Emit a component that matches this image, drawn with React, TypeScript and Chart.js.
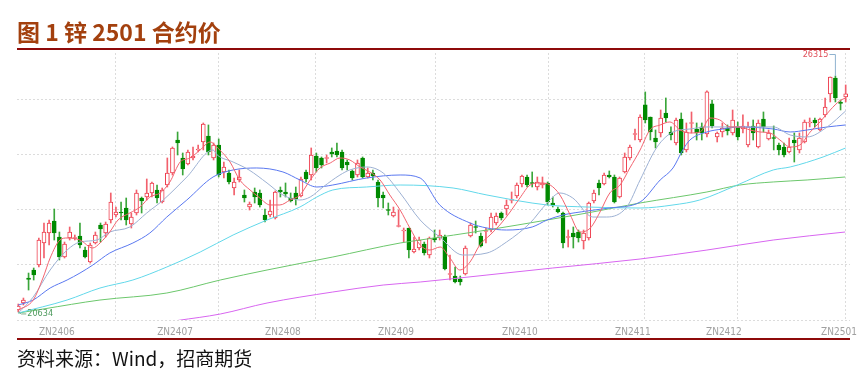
import React, { useEffect, useRef } from 'react';
import { Chart, registerables } from 'chart.js';
Chart.register(...registerables);

// Daily OHLC of ZN2501 (index = trading day)
const opens = [20680,20849,21451,21644,21764,22294,22535,22824,22439,21957,
22415,22403,22463,22125,21836,22294,22728,22535,22848,22969,
23041,23137,22752,23017,23378,23402,23499,23571,23282,23691,
23980,24775,24342,24197,24342,24535,24727,24872,24342,24655,
24005,23980,23619,23812,23450,23161,23523,23499,22969,22969,
22896,23571,23523,23378,23499,23426,24005,23932,24390,24342,
24330,24486,24510,24486,24245,24029,23932,24342,23884,23980,
23764,23450,23101,22945,22692,22583,22655,22077,22174,22270,
22005,22415,22415,22439,21535,21499,21427,21547,22463,22692,
22463,22571,22607,22776,23017,23113,23318,23426,23715,23884,
23752,23643,23691,23740,23258,23113,23017,22427,22535,22559,
22342,22415,23306,23740,23715,23932,23884,23402,24005,24342,
24908,24775,25619,25329,24824,24944,25426,24968,24703,25281,
24535,25173,25040,25089,24920,25643,24848,24968,25064,24944,
25089,25040,24655,25113,24607,25281,24800,24836,24655,24607,
24486,24775,24535,24727,25185,25257,25016,25378,25884,26269,
25680,25811];
const highs = [20825,20969,21571,21692,22415,22776,22848,23113,22559,22318,
22680,22487,22776,22198,22294,22559,22776,22800,23499,23161,
23282,23378,23017,23571,23402,23836,23764,23691,23619,24342,
24607,24968,24462,24535,24607,24655,25185,25137,24703,24800,
24245,24053,23860,24053,23571,23282,23619,23571,23113,23330,
23547,23643,23740,23499,23643,23884,24053,24583,24462,24366,
24414,24583,24703,24535,24294,24053,24294,24366,24101,24053,
23812,23523,23258,23161,23089,22655,22655,22439,22439,22318,
22439,22607,22607,22487,22005,21716,21499,22222,22776,22824,
22535,22655,23017,23017,23041,23330,23523,23740,23932,23932,
24005,23884,23884,23764,23402,23161,23041,22607,22680,22607,
22607,23282,23571,23812,23980,24029,23932,23884,24462,24655,
25040,25378,25932,25329,25016,25498,25787,25089,25305,25426,
25185,25450,25185,25185,25956,25739,24968,25185,25137,25498,
25209,25378,25209,25257,25257,25450,25016,25113,24703,24703,
24824,24944,24944,25257,25305,25305,25305,25787,26293,26315,
25739,26100];
const lows = [20634,20801,21162,21403,21716,21933,22246,22366,21885,21933,
22366,22366,22174,21933,21812,22270,22318,22439,22776,22920,
22848,22728,22655,22969,23017,23330,23402,23258,23258,23643,
23932,24414,23932,24173,24294,24486,24535,24414,24294,23884,
23860,23715,23450,23764,23282,23089,23258,23161,22800,22920,
22872,23402,23402,23282,23210,23402,23764,23812,24005,24101,
24221,24366,24366,24053,24053,23812,23884,23860,23860,23812,
23161,23137,22969,22920,22680,22318,21933,22053,22125,22005,
21933,22318,22366,21644,21403,21331,21282,21523,22439,22535,
22198,22294,22559,22728,22848,22969,23258,23378,23643,23643,
23643,23571,23619,23210,23161,23017,22174,22198,22174,22318,
22150,22366,23258,23450,23691,23860,23258,23378,23980,24294,
24775,24727,25185,24775,24583,24848,25209,24775,24655,24414,
24486,24944,24775,24775,24848,25064,24727,24848,24896,24896,
24775,24944,24607,24775,24583,24968,24775,24535,24414,24366,
24462,24245,24462,24703,25089,25089,24992,25329,25691,25691,
25498,25691];
const closes = [20776,20921,21415,21523,22366,22559,22776,22535,21957,22270,
22559,22427,22246,21957,22246,22487,22631,22752,23282,23041,
23017,22848,22920,23499,23306,23499,23740,23378,23571,23980,
24583,24703,24077,24486,24390,24559,25161,24486,24655,23932,
24125,23764,23764,23884,23378,23234,23402,23210,22848,23065,
23523,23523,23475,23306,23354,23836,23836,24414,24101,24173,
24354,24438,24414,24101,24173,23860,24221,23884,23980,23908,
23378,23378,23077,23041,22716,22607,22125,22150,22366,22053,
22415,22366,22487,21668,21559,21355,21355,22174,22728,22668,
22222,22595,22920,22945,22896,23210,23342,23691,23908,23691,
23728,23764,23740,23282,23210,23041,22294,22451,22439,22415,
22535,23258,23499,23619,23932,23884,23282,23860,24366,24607,
24932,25329,25257,24968,24727,25305,25305,24896,25257,24462,
24968,25197,24944,24944,25932,25113,24944,25064,24992,25257,
24848,25113,25089,24944,25185,25089,24944,24812,24535,24414,
24607,24703,24824,25209,25209,25185,25281,25570,26293,25787,
25655,25884];

// Moving averages: [day index, price]
const ma5 = [[0,20680],[2.9,20921],[4.8,21451],[6.2,21933],[8.1,22366],[9.5,22415],[12,22366],[14.5,22174],[15.9,22294],[17.8,22559],[19.4,22848],[21.7,23017],[23.7,23161],[25.6,23402],[27.6,23499],[29.5,23764],[31.5,24245],[33.4,24342],[35.4,24535],[37.3,24727],[39.2,24535],[41.2,24245],[43.1,23812],[45.1,23571],[47,23378],[49,23210],[50.9,23210],[52.9,23330],[54.8,23450],[56.8,23812],[58.7,24101],[60.7,24221],[62.6,24342],[64.5,24294],[66.5,24125],[68.4,24005],[70.4,23812],[72.3,23450],[74.3,23089],[76.2,22655],[78.2,22246],[80.1,22125],[82.1,22198],[84,21933],[85.9,21644],[87.9,21836],[89.8,22246],[91.8,22487],[93.7,22728],[95.7,23041],[97.6,23378],[99.6,23691],[101.5,23740],[103.5,23691],[105.4,23450],[107.4,22969],[109.3,22559],[111.3,22655],[113.2,23041],[115.1,23499],[117.1,23691],[119,24101],[121,24535],[122.9,25016],[124.9,25137],[126.8,25209],[128.8,25016],[130.7,24944],[132.7,24968],[134.6,25305],[136.5,25257],[138.5,25089],[140.4,25089],[142.4,25016],[144.3,24968],[146.3,24944],[148.2,24775],[150.2,24607],[152.1,24655],[154.1,24968],[156,25209],[158,25498],[159.9,25723],[161,25787]];
const ma10 = [[0,20608],[2.9,20993],[6.2,21644],[9.5,22125],[12,22318],[15.3,22366],[17.8,22559],[21.7,22680],[25,23017],[28.2,23330],[32.8,23884],[37.9,24535],[38.7,24414],[41.8,24245],[44.9,24053],[48.4,23740],[51.5,23450],[54.8,23330],[56.8,23402],[59.3,23643],[62.6,23932],[64.5,24053],[67.8,24125],[71,23980],[74.3,23499],[78.2,22848],[82,22439],[86.5,22005],[91.2,22053],[95,22318],[99.6,22776],[102.9,23258],[105.4,23499],[107.9,23378],[111.8,22920],[114.5,22920],[118.4,23161],[121,23812],[124.3,24607],[127.4,24968],[130.7,25040],[134,25089],[146.9,25089],[150.2,24896],[153.5,24848],[157.4,25089],[161,25474]];
const ma20 = [[0,20801],[2.9,20921],[6.2,21210],[9.5,21403],[12,21571],[14.5,21764],[17.8,22053],[22.3,22294],[25.6,22535],[28.9,22920],[32.8,23330],[37.9,23884],[41.8,24053],[46.4,24101],[51.5,24005],[54.8,23812],[58.1,23643],[61.2,23691],[67.8,23860],[74.3,23932],[78.2,23860],[82,23210],[87.9,22776],[91.2,22655],[95,22607],[100,22680],[102.9,22848],[106,22969],[110.7,23065],[115,23137],[121,23282],[124.9,23812],[127.4,24101],[129.3,24535],[130.7,24775],[134,24968],[137.1,25040],[140.4,25089],[146.9,25040],[150.2,24968],[153.5,25016],[157.4,25089],[161,25137]];
const ma40 = [[0,20608],[9.5,20921],[15.9,21210],[22.3,21403],[28.9,21716],[35.4,22077],[41.8,22487],[48.4,22848],[54.8,23161],[58.1,23402],[61.2,23571],[67.8,23643],[74.3,23691],[84.6,23619],[91.2,23450],[102.9,23210],[110.7,23161],[121,23137],[127.4,23210],[132.6,23330],[139.9,23691],[146.9,24053],[150.2,24125],[156.6,24366],[161,24583]];
const ma60 = [[0,20608],[4.8,20704],[15.9,20921],[28.9,21090],[39.3,21403],[48.4,21644],[61.2,21957],[74.3,22294],[78.2,22366],[91.2,22607],[102.9,22848],[110.7,23017],[121,23258],[134,23523],[140.4,23691],[146.9,23764],[153.5,23812],[160.9,23884]];
const ma120 = [[31.1,20430],[39.3,20584],[48.4,20849],[61.2,21114],[71,21282],[78.2,21355],[91.2,21523],[104,21692],[121,21909],[134,22125],[146.9,22366],[160.9,22559]];

const tickIdx = [7.5, 30.5, 51.5, 73.5, 97.6, 119.6, 137.3, 159.7];
const tickLabels = ['ZN2406', 'ZN2407', 'ZN2408', 'ZN2409', 'ZN2410', 'ZN2411', 'ZN2412', 'ZN2501'];
const gridIdx = [19.0, 38.9, 57.9, 81.1, 103.1, 121.9, 140.0, 161.0];
const yGrid = [20440, 21765, 23090, 24415, 25740];

const RED = '#EE3E4E';
const GREEN = '#008A00';
const NARROW = '"Liberation Sans Narrow", "Arial Narrow", "DejaVu Sans Condensed", sans-serif';

const annotate = {
  id: 'annotate',
  afterDatasetsDraw(chart: any) {
    const { ctx, scales, chartArea } = chart;
    const x = scales.x, y = scales.y;
    let hi = 0, lo = 0;
    highs.forEach((v, i) => { if (v > highs[hi]) hi = i; });
    lows.forEach((v, i) => { if (v < lows[lo]) lo = i; });
    const hx = x.getPixelForValue(hi), hy = y.getPixelForValue(highs[hi]);
    const lx = x.getPixelForValue(lo), ly = y.getPixelForValue(lows[lo]);
    ctx.save();
    ctx.lineWidth = 1;
    ctx.strokeStyle = '#8FB2CF';
    const ty = chartArea.top + 1.5;
    ctx.beginPath();
    ctx.moveTo(hx, hy);
    ctx.lineTo(hx, ty);
    ctx.lineTo(hx - 6, ty);
    ctx.stroke();
    ctx.font = '9px ' + NARROW;
    ctx.textBaseline = 'middle';
    ctx.textAlign = 'right';
    ctx.fillStyle = '#E0505A';
    ctx.fillText(String(highs[hi]), hx - 7, ty);
    ctx.strokeStyle = '#7FB08A';
    ctx.beginPath();
    ctx.moveTo(lx, ly);
    ctx.lineTo(lx + 3, ly + 2);
    ctx.lineTo(lx + 8, ly + 2);
    ctx.stroke();
    ctx.textAlign = 'left';
    ctx.fillStyle = '#4E9A5E';
    ctx.fillText(String(lows[lo]), lx + 9, ly + 2);
    ctx.restore();
  },
};

export default function App() {
  const ref = useRef<HTMLCanvasElement>(null);
  useEffect(() => {
    if (!ref.current) return;
    const days = opens.map((_, i) => i);
    const isUp = (i: number) => closes[i] >= opens[i];
    const line = (pts: number[][], color: string, width = 1) => ({
      type: 'line' as const,
      data: pts.map(([x, y]) => ({ x, y })),
      borderColor: color,
      borderWidth: width,
      pointRadius: 0,
      cubicInterpolationMode: 'monotone' as const,
      order: 0,
    });
    const allTicks = [...gridIdx, ...tickIdx].sort((a, b) => a - b);
    const chart = new Chart(ref.current, {
      type: 'bar',
      data: {
        datasets: [
          line(ma5, '#F2636F'),
          line(ma10, '#9DB1D3'),
          line(ma20, '#5A78F0'),
          line(ma40, '#62D8EA'),
          line(ma60, '#6CC76C'),
          line(ma120, '#D866F0'),
          {
            type: 'bar',
            data: days.map((i) => ({ x: i, y: [opens[i], closes[i]] })),
            backgroundColor: (c: any) => (isUp(c.dataIndex) ? '#FFFFFF' : GREEN),
            borderColor: (c: any) => (isUp(c.dataIndex) ? RED : GREEN),
            borderWidth: 1,
            borderSkipped: false,
            barThickness: 4,
            minBarLength: 1,
            grouped: false,
            order: 1,
          } as any,
          {
            type: 'bar',
            data: days.map((i) => ({ x: i, y: [lows[i], highs[i]] })),
            backgroundColor: (c: any) => (isUp(c.dataIndex) ? '#F2606C' : '#3AA63A'),
            barThickness: 1,
            grouped: false,
            order: 2,
          } as any,
        ],
      },
      options: {
        responsive: false,
        animation: false,
        events: [],
        layout: { padding: { left: 17, right: 13, top: 53, bottom: 40 } },
        plugins: { legend: { display: false }, tooltip: { enabled: false } },
        scales: {
          x: {
            type: 'linear',
            offset: false,
            min: -0.25,
            max: 161.84,
            afterBuildTicks: (s: any) => { s.ticks = allTicks.map((v) => ({ value: v })); },
            afterFit: (s: any) => { s.height = 18; },
            ticks: {
              autoSkip: false,
              maxRotation: 0,
              padding: 6,
              color: '#A0A0A0',
              font: { size: 10, family: NARROW },
              callback: (v: any) => {
                const k = tickIdx.indexOf(Number(v));
                return k >= 0 ? tickLabels[k] : '';
              },
            },
            grid: {
              offset: false,
              drawTicks: false,
              color: (c: any) => (c.tick && gridIdx.includes(c.tick.value) ? '#DCDCDC' : 'rgba(0,0,0,0)'),
            },
            border: { display: false, dash: [2, 2] },
          },
          y: {
            type: 'linear',
            min: 20440,
            max: 26870,
            afterBuildTicks: (s: any) => { s.ticks = yGrid.map((v) => ({ value: v })); },
            afterFit: (s: any) => { s.width = 0; },
            ticks: { display: false },
            grid: { drawTicks: false, color: '#DCDCDC' },
            border: { display: false, dash: [2, 2] },
          },
        },
      } as any,
      plugins: [annotate],
    });
    return () => chart.destroy();
  }, []);

  return (
    <div style={{ position: 'absolute', left: 0, top: 0, width: 863, height: 378, background: '#FFFFFF', overflow: 'hidden' }}>
      <canvas ref={ref} width={863} height={378} style={{ position: 'absolute', left: 0, top: 0, width: 863, height: 378 }} />
      <div style={{ position: 'absolute', left: 17, top: 15, fontFamily: '"Noto Sans CJK SC", sans-serif', fontWeight: 700, fontSize: 23, color: '#A3400E', whiteSpace: 'nowrap', lineHeight: '32px' }}>
        图 1 锌 2501 合约价
      </div>
      <div style={{ position: 'absolute', left: 17, top: 48, width: 833, height: 2, background: '#8E0A0A' }} />
      <div style={{ position: 'absolute', left: 17, top: 338, width: 833, height: 2, background: '#8E0A0A' }} />
      <div style={{ position: 'absolute', left: 17, top: 344, fontFamily: '"Noto Sans CJK SC", sans-serif', fontSize: 19, color: '#111', whiteSpace: 'nowrap', lineHeight: '28px' }}>
        资料来源：Wind，招商期货
      </div>
    </div>
  );
}
